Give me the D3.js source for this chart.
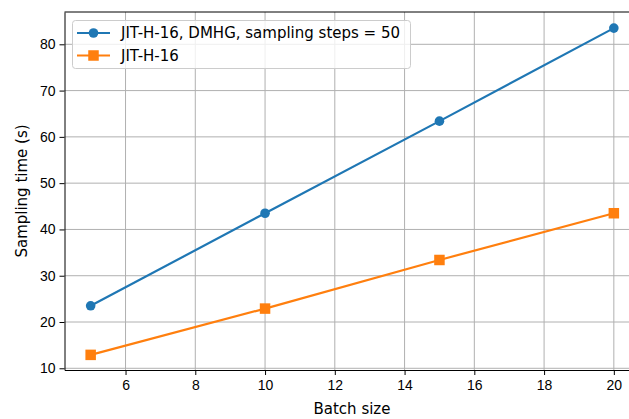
<!DOCTYPE html>
<html>
<head>
<meta charset="utf-8">
<script src="https://cdn.jsdelivr.net/npm/d3@7"></script>
<style>
  body { margin: 0; background: #fff; }
  svg { font-family: 'DejaVu Sans', sans-serif; }
  .grid line { stroke: #b0b0b0; stroke-width: 1; }
  .axis path, .axis line { stroke: #000; }
  .axis text { font-size: 14px; fill: #000; }
</style>
</head>
<body>
<div id="chart"></div>
<script>
const batchSizes = [5, 10, 15, 20]
const dmhgTimes = [23.5, 43.5, 63.4, 83.5]
const baseTimes = [12.9, 22.9, 33.4, 43.5]
const xTicks = [6, 8, 10, 12, 14, 16, 18, 20]
const yTicks = [10, 20, 30, 40, 50, 60, 70, 80]
const seriesNames = ['JIT-H-16, DMHG, sampling steps = 50', 'JIT-H-16']
const colors = ['#1f77b4', '#ff7f0e']

const width = 629
const height = 419
const marginLeft = 64.5
const marginTop = 12
const plotRight = 640
const plotBottom = 370
const markerR = 4.8
const squareSide = 10.5

const svg = d3.select('#chart').append('svg')
  .attr('width', width)
  .attr('height', height)

const x = d3.scaleLinear().domain([4.25, 20.75]).range([marginLeft, plotRight])
const y = d3.scaleLinear().domain([9.63, 86.98]).range([plotBottom, marginTop])

// grid
const grid = svg.append('g').attr('class', 'grid')
grid.selectAll('line.v').data(xTicks).enter().append('line')
  .attr('class', 'v')
  .attr('x1', d => x(d)).attr('x2', d => x(d))
  .attr('y1', marginTop).attr('y2', plotBottom)
grid.selectAll('line.h').data(yTicks).enter().append('line')
  .attr('class', 'h')
  .attr('x1', marginLeft).attr('x2', plotRight)
  .attr('y1', d => y(d)).attr('y2', d => y(d))

// axes
svg.append('g')
  .attr('class', 'axis')
  .attr('transform', 'translate(0,' + plotBottom + ')')
  .call(d3.axisBottom(x).tickValues(xTicks).tickSize(5).tickPadding(5).tickSizeOuter(0))
svg.append('g')
  .attr('class', 'axis')
  .attr('transform', 'translate(' + marginLeft + ',0)')
  .call(d3.axisLeft(y).tickValues(yTicks).tickSize(5).tickPadding(4).tickSizeOuter(0))

// top / right spines
svg.append('line')
  .attr('x1', marginLeft).attr('x2', plotRight)
  .attr('y1', marginTop).attr('y2', marginTop)
  .attr('stroke', '#000')
svg.append('line')
  .attr('x1', plotRight).attr('x2', plotRight)
  .attr('y1', marginTop).attr('y2', plotBottom)
  .attr('stroke', '#000')

// series
const series = [dmhgTimes, baseTimes]
const line = d3.line().x((d, i) => x(batchSizes[i])).y(d => y(d))

series.forEach((vals, k) => {
  svg.append('path')
    .datum(vals)
    .attr('fill', 'none')
    .attr('stroke', colors[k])
    .attr('stroke-width', 2.2)
    .attr('d', line)
  if (k === 0) {
    svg.selectAll('circle.m').data(vals).enter().append('circle')
      .attr('class', 'm')
      .attr('cx', (d, i) => x(batchSizes[i]))
      .attr('cy', d => y(d))
      .attr('r', markerR)
      .attr('fill', colors[k])
  } else {
    svg.selectAll('rect.m').data(vals).enter().append('rect')
      .attr('class', 'm')
      .attr('x', (d, i) => x(batchSizes[i]) - squareSide / 2)
      .attr('y', d => y(d) - squareSide / 2)
      .attr('width', squareSide).attr('height', squareSide)
      .attr('fill', colors[k])
  }
})

// axis labels
svg.append('text')
  .attr('x', 352)
  .attr('y', 414)
  .attr('text-anchor', 'middle')
  .attr('font-size', 15)
  .text('Batch size')
svg.append('text')
  .attr('transform', 'translate(27,' + (marginTop + plotBottom) / 2 + ') rotate(-90)')
  .attr('text-anchor', 'middle')
  .attr('font-size', 15)
  .text('Sampling time (s)')

// legend
const legend = svg.append('g')
legend.append('rect')
  .attr('x', 72.5).attr('y', 20.5)
  .attr('width', 338).attr('height', 48)
  .attr('rx', 3)
  .attr('fill', '#fff').attr('fill-opacity', 0.8)
  .attr('stroke', '#ccc')
seriesNames.forEach((name, k) => {
  const ly = 33 + k * 22.5
  legend.append('line')
    .attr('x1', 77).attr('x2', 110)
    .attr('y1', ly).attr('y2', ly)
    .attr('stroke', colors[k]).attr('stroke-width', 2.2)
  if (k === 0) {
    legend.append('circle').attr('cx', 93.5).attr('cy', ly).attr('r', markerR).attr('fill', colors[k])
  } else {
    legend.append('rect').attr('x', 93.5 - squareSide / 2).attr('y', ly - squareSide / 2)
      .attr('width', squareSide).attr('height', squareSide).attr('fill', colors[k])
  }
  legend.append('text')
    .attr('x', 121).attr('y', ly)
    .attr('dy', '0.35em')
    .attr('font-size', 15)
    .text(name)
})
</script>
</body>
</html>
